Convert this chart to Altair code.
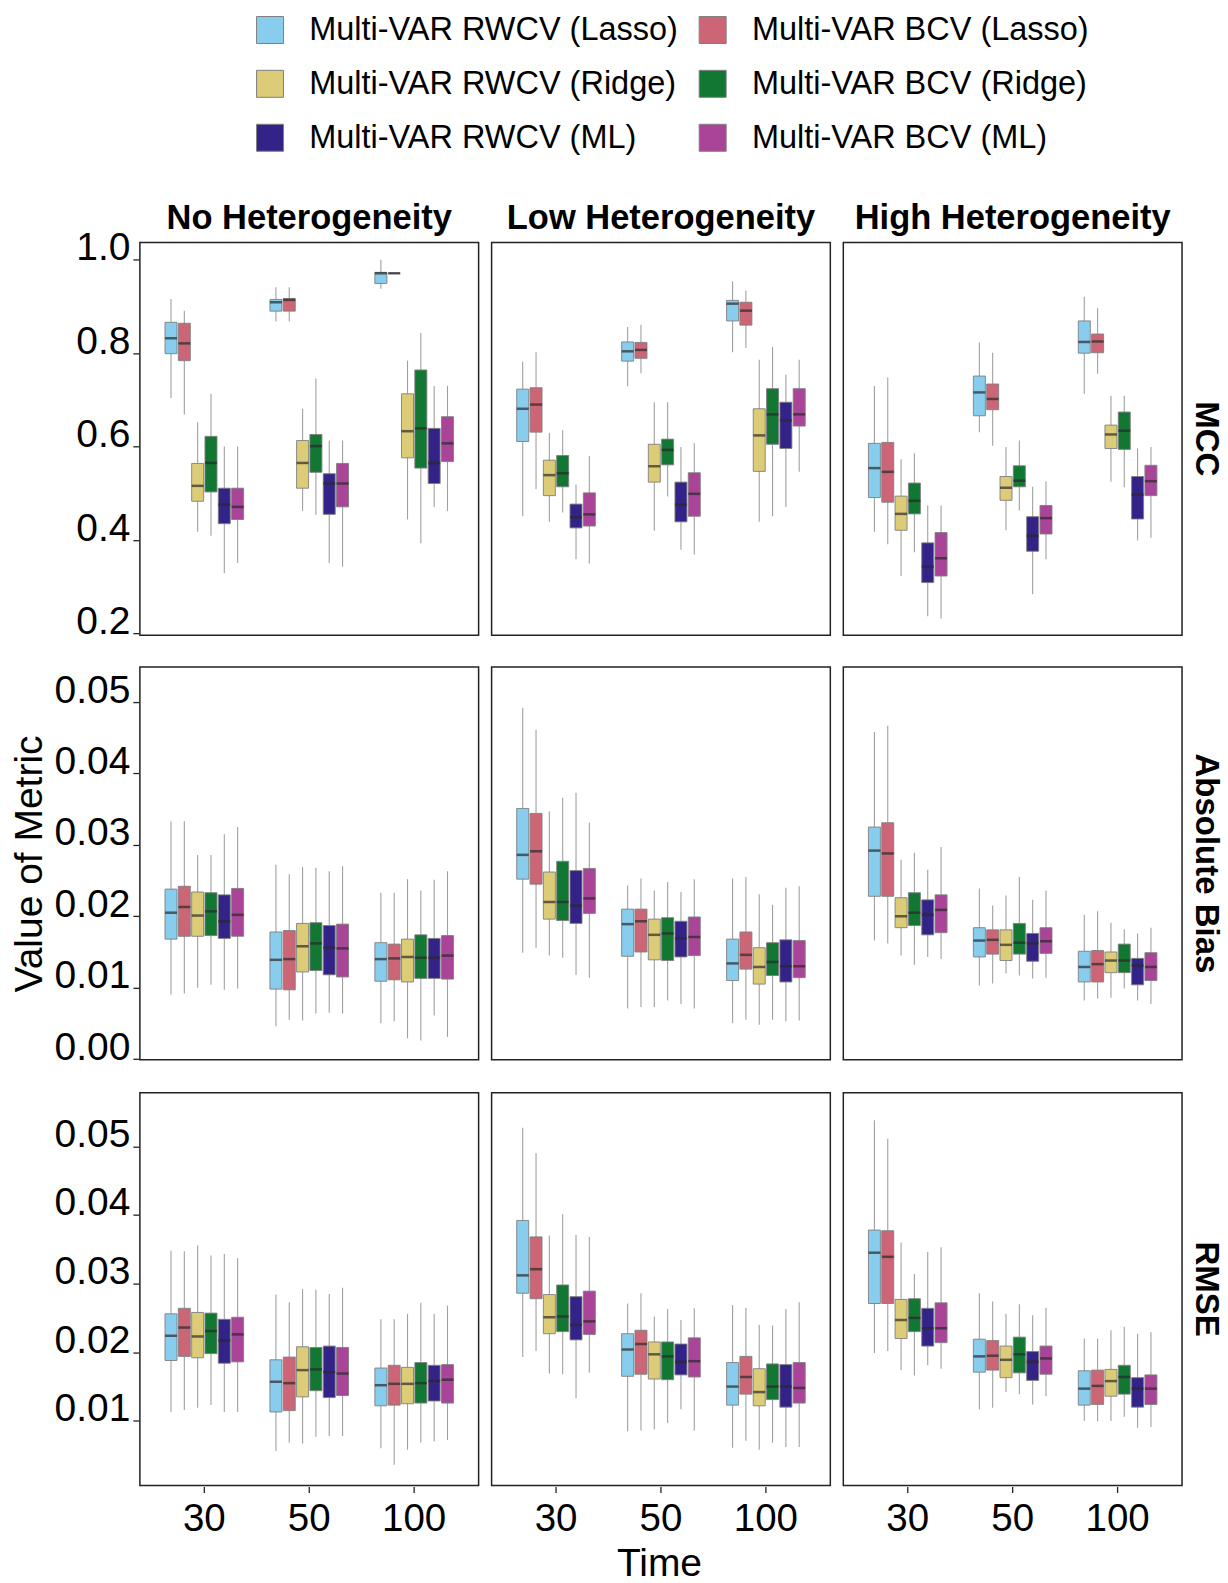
import altair as alt
import pandas as pd

METHODS = ["Multi-VAR RWCV (Lasso)", "Multi-VAR BCV (Lasso)",
           "Multi-VAR RWCV (Ridge)", "Multi-VAR BCV (Ridge)",
           "Multi-VAR RWCV (ML)", "Multi-VAR BCV (ML)"]
COLORS = ["#88CCEE", "#CC6677", "#DDCC77", "#117733", "#332288", "#AA4499"]
# legend is laid out column by column: RWCV methods on the left, BCV on the right
LEGEND_ORDER = [0, 2, 4, 1, 3, 5]
TIMES = ["30", "50", "100"]
HETS = ["No Heterogeneity", "Low Heterogeneity", "High Heterogeneity"]

# rows: time 30, 50, 100 x methods in METHODS order; [lower whisker, Q1, median, Q3, upper whisker]
MCC_NO = [
    [0.704, 0.799, 0.832, 0.866, 0.916], [0.669, 0.784, 0.821, 0.864, 0.891],
    [0.418, 0.483, 0.516, 0.564, 0.652], [0.409, 0.503, 0.565, 0.622, 0.713],
    [0.329, 0.435, 0.476, 0.511, 0.600], [0.351, 0.444, 0.471, 0.511, 0.600],
    [0.868, 0.890, 0.909, 0.915, 0.941], [0.868, 0.890, 0.914, 0.917, 0.941],
    [0.462, 0.511, 0.565, 0.613, 0.681], [0.454, 0.545, 0.601, 0.626, 0.746],
    [0.351, 0.455, 0.521, 0.542, 0.613], [0.343, 0.471, 0.521, 0.564, 0.613],
    [0.938, 0.949, 0.971, 0.973, 1.000], [0.971, 0.971, 0.971, 0.971, 0.971],
    [0.444, 0.576, 0.633, 0.713, 0.784], [0.393, 0.554, 0.639, 0.764, 0.843],
    [0.471, 0.521, 0.565, 0.639, 0.730], [0.462, 0.568, 0.607, 0.664, 0.730],
]
MCC_LOW = [
    [0.451, 0.611, 0.681, 0.723, 0.782], [0.509, 0.631, 0.690, 0.726, 0.802],
    [0.439, 0.495, 0.539, 0.571, 0.629], [0.459, 0.514, 0.543, 0.581, 0.635],
    [0.359, 0.426, 0.449, 0.477, 0.519], [0.350, 0.430, 0.455, 0.501, 0.580],
    [0.729, 0.783, 0.804, 0.824, 0.856], [0.757, 0.789, 0.807, 0.823, 0.861],
    [0.420, 0.524, 0.558, 0.605, 0.695], [0.493, 0.561, 0.593, 0.616, 0.695],
    [0.379, 0.439, 0.476, 0.524, 0.599], [0.369, 0.451, 0.499, 0.544, 0.607],
    [0.802, 0.869, 0.906, 0.913, 0.954], [0.811, 0.860, 0.891, 0.909, 0.934],
    [0.439, 0.547, 0.624, 0.681, 0.786], [0.451, 0.605, 0.669, 0.724, 0.813],
    [0.471, 0.596, 0.656, 0.695, 0.754], [0.546, 0.644, 0.669, 0.724, 0.786],
]
MCC_HIGH = [
    [0.418, 0.491, 0.554, 0.607, 0.730], [0.391, 0.481, 0.546, 0.609, 0.748],
    [0.323, 0.421, 0.456, 0.494, 0.573], [0.374, 0.456, 0.484, 0.522, 0.586],
    [0.237, 0.309, 0.343, 0.394, 0.474], [0.232, 0.323, 0.361, 0.416, 0.474],
    [0.631, 0.666, 0.716, 0.751, 0.823], [0.602, 0.679, 0.702, 0.734, 0.801],
    [0.421, 0.485, 0.512, 0.536, 0.599], [0.463, 0.514, 0.527, 0.559, 0.613],
    [0.284, 0.376, 0.409, 0.450, 0.514], [0.359, 0.413, 0.447, 0.474, 0.526],
    [0.713, 0.800, 0.824, 0.869, 0.921], [0.756, 0.801, 0.825, 0.841, 0.896],
    [0.525, 0.596, 0.626, 0.646, 0.709], [0.513, 0.594, 0.634, 0.674, 0.709],
    [0.399, 0.445, 0.497, 0.536, 0.596], [0.405, 0.495, 0.526, 0.560, 0.599],
]
AB_NO = [
    [0.0090, 0.0168, 0.0205, 0.0238, 0.0333], [0.0092, 0.0172, 0.0213, 0.0242, 0.0333],
    [0.0100, 0.0172, 0.0201, 0.0234, 0.0286], [0.0104, 0.0173, 0.0207, 0.0233, 0.0286],
    [0.0097, 0.0169, 0.0193, 0.0230, 0.0315], [0.0099, 0.0172, 0.0202, 0.0239, 0.0325],
    [0.0046, 0.0098, 0.0139, 0.0178, 0.0272], [0.0055, 0.0097, 0.0140, 0.0180, 0.0259],
    [0.0054, 0.0122, 0.0158, 0.0190, 0.0269], [0.0064, 0.0124, 0.0162, 0.0191, 0.0268],
    [0.0065, 0.0118, 0.0156, 0.0187, 0.0263], [0.0064, 0.0115, 0.0155, 0.0189, 0.0270],
    [0.0050, 0.0109, 0.0140, 0.0163, 0.0233], [0.0053, 0.0111, 0.0141, 0.0161, 0.0233],
    [0.0029, 0.0108, 0.0143, 0.0168, 0.0252], [0.0026, 0.0113, 0.0142, 0.0174, 0.0236],
    [0.0061, 0.0113, 0.0142, 0.0169, 0.0251], [0.0031, 0.0112, 0.0145, 0.0173, 0.0263],
]
AB_LOW = [
    [0.0149, 0.0252, 0.0286, 0.0351, 0.0492], [0.0156, 0.0245, 0.0291, 0.0344, 0.0461],
    [0.0145, 0.0196, 0.0220, 0.0262, 0.0347], [0.0142, 0.0194, 0.0220, 0.0277, 0.0366],
    [0.0118, 0.0190, 0.0215, 0.0264, 0.0373], [0.0114, 0.0204, 0.0225, 0.0267, 0.0331],
    [0.0071, 0.0144, 0.0189, 0.0210, 0.0243], [0.0073, 0.0150, 0.0193, 0.0210, 0.0253],
    [0.0073, 0.0139, 0.0174, 0.0196, 0.0236], [0.0082, 0.0138, 0.0176, 0.0198, 0.0248],
    [0.0077, 0.0143, 0.0169, 0.0193, 0.0234], [0.0071, 0.0145, 0.0171, 0.0199, 0.0252],
    [0.0050, 0.0110, 0.0134, 0.0168, 0.0253], [0.0055, 0.0126, 0.0146, 0.0178, 0.0255],
    [0.0048, 0.0105, 0.0129, 0.0156, 0.0231], [0.0055, 0.0117, 0.0136, 0.0163, 0.0216],
    [0.0053, 0.0108, 0.0130, 0.0167, 0.0240], [0.0054, 0.0114, 0.0130, 0.0166, 0.0242],
]
AB_HIGH = [
    [0.0166, 0.0228, 0.0292, 0.0325, 0.0458], [0.0162, 0.0228, 0.0288, 0.0331, 0.0467],
    [0.0145, 0.0184, 0.0200, 0.0226, 0.0279], [0.0132, 0.0187, 0.0205, 0.0233, 0.0289],
    [0.0143, 0.0174, 0.0202, 0.0223, 0.0265], [0.0140, 0.0177, 0.0209, 0.0230, 0.0297],
    [0.0103, 0.0143, 0.0166, 0.0184, 0.0239], [0.0106, 0.0147, 0.0167, 0.0181, 0.0215],
    [0.0120, 0.0138, 0.0160, 0.0181, 0.0229], [0.0117, 0.0147, 0.0163, 0.0190, 0.0255],
    [0.0113, 0.0137, 0.0162, 0.0176, 0.0223], [0.0114, 0.0148, 0.0165, 0.0184, 0.0236],
    [0.0082, 0.0108, 0.0129, 0.0151, 0.0202], [0.0085, 0.0108, 0.0133, 0.0152, 0.0207],
    [0.0086, 0.0121, 0.0138, 0.0150, 0.0191], [0.0099, 0.0121, 0.0138, 0.0161, 0.0182],
    [0.0082, 0.0104, 0.0131, 0.0141, 0.0176], [0.0077, 0.0110, 0.0129, 0.0149, 0.0184],
]
RMSE_NO = [
    [0.0113, 0.0188, 0.0224, 0.0256, 0.0348], [0.0116, 0.0194, 0.0236, 0.0264, 0.0347],
    [0.0119, 0.0192, 0.0223, 0.0258, 0.0356], [0.0123, 0.0198, 0.0231, 0.0257, 0.0341],
    [0.0113, 0.0184, 0.0217, 0.0248, 0.0343], [0.0113, 0.0186, 0.0226, 0.0251, 0.0337],
    [0.0056, 0.0113, 0.0157, 0.0189, 0.0284], [0.0068, 0.0115, 0.0155, 0.0193, 0.0273],
    [0.0067, 0.0135, 0.0174, 0.0208, 0.0292], [0.0077, 0.0144, 0.0175, 0.0207, 0.0291],
    [0.0078, 0.0134, 0.0171, 0.0209, 0.0285], [0.0078, 0.0137, 0.0169, 0.0207, 0.0294],
    [0.0060, 0.0122, 0.0152, 0.0177, 0.0248], [0.0036, 0.0123, 0.0154, 0.0181, 0.0248],
    [0.0058, 0.0125, 0.0154, 0.0178, 0.0256], [0.0068, 0.0126, 0.0155, 0.0185, 0.0272],
    [0.0070, 0.0129, 0.0158, 0.0181, 0.0256], [0.0072, 0.0126, 0.0160, 0.0182, 0.0268],
]
RMSE_LOW = [
    [0.0193, 0.0286, 0.0312, 0.0392, 0.0527], [0.0202, 0.0278, 0.0321, 0.0368, 0.0490],
    [0.0169, 0.0227, 0.0251, 0.0284, 0.0370], [0.0168, 0.0230, 0.0252, 0.0298, 0.0401],
    [0.0133, 0.0218, 0.0240, 0.0281, 0.0371], [0.0170, 0.0226, 0.0245, 0.0289, 0.0368],
    [0.0085, 0.0165, 0.0204, 0.0227, 0.0271], [0.0086, 0.0168, 0.0212, 0.0232, 0.0286],
    [0.0088, 0.0161, 0.0197, 0.0215, 0.0252], [0.0097, 0.0160, 0.0194, 0.0215, 0.0263],
    [0.0117, 0.0167, 0.0186, 0.0212, 0.0247], [0.0086, 0.0164, 0.0187, 0.0221, 0.0264],
    [0.0061, 0.0123, 0.0150, 0.0185, 0.0269], [0.0071, 0.0139, 0.0164, 0.0194, 0.0265],
    [0.0058, 0.0122, 0.0142, 0.0176, 0.0240], [0.0068, 0.0131, 0.0150, 0.0183, 0.0239],
    [0.0062, 0.0120, 0.0150, 0.0182, 0.0263], [0.0062, 0.0126, 0.0148, 0.0185, 0.0273],
]
RMSE_HIGH = [
    [0.0199, 0.0271, 0.0345, 0.0378, 0.0538], [0.0202, 0.0271, 0.0339, 0.0377, 0.0511],
    [0.0174, 0.0220, 0.0247, 0.0277, 0.0360], [0.0166, 0.0230, 0.0250, 0.0278, 0.0314],
    [0.0181, 0.0209, 0.0235, 0.0264, 0.0346], [0.0176, 0.0214, 0.0235, 0.0272, 0.0353],
    [0.0117, 0.0171, 0.0194, 0.0219, 0.0286], [0.0119, 0.0174, 0.0195, 0.0217, 0.0274],
    [0.0142, 0.0163, 0.0189, 0.0209, 0.0256], [0.0139, 0.0170, 0.0197, 0.0222, 0.0270],
    [0.0124, 0.0159, 0.0186, 0.0201, 0.0254], [0.0136, 0.0168, 0.0191, 0.0209, 0.0265],
    [0.0100, 0.0123, 0.0147, 0.0173, 0.0220], [0.0099, 0.0124, 0.0151, 0.0174, 0.0220],
    [0.0100, 0.0136, 0.0158, 0.0175, 0.0232], [0.0106, 0.0139, 0.0164, 0.0181, 0.0237],
    [0.0090, 0.0120, 0.0147, 0.0163, 0.0227], [0.0091, 0.0124, 0.0147, 0.0167, 0.0229],
]

MCC_DOMAIN = [0.1965, 1.037]
AB_DOMAIN = [-0.0001, 0.0549]
RMSE_DOMAIN = [0.0006, 0.0578]
MCC_TICKS = [0.2, 0.4, 0.6, 0.8, 1.0]
AB_TICKS = [0.00, 0.01, 0.02, 0.03, 0.04, 0.05]
RMSE_TICKS = [0.01, 0.02, 0.03, 0.04, 0.05]

FONT = "Liberation Sans"
LEG_DOMAIN = [METHODS[i] for i in LEGEND_ORDER]
LEG_RANGE = [COLORS[i] for i in LEGEND_ORDER]


def records(metric, het, rows):
    out = []
    for i, r in enumerate(rows):
        out.append(dict(metric=metric, het=het, time=TIMES[i // 6], method=METHODS[i % 6],
                        lw=r[0], q1=r[1], med=r[2], q3=r[3], uw=r[4]))
    return out


def row_chart(metric, tables, domain, ticks, fmt, top=False, middle=False, bottom=False):
    data = []
    for het, rows in zip(HETS, tables):
        data += records(metric, het, rows)
    base = alt.Chart(pd.DataFrame(data))
    xaxis = alt.Axis(title=None, labelAngle=0, labelFontSize=38.5, labelFont=FONT,
                     tickSize=6, tickColor="#222", tickWidth=1.3, domain=False,
                     labelPadding=8, labelColor="black") if bottom else None
    x = alt.X("time:N", sort=TIMES, axis=xaxis,
              scale=alt.Scale(paddingInner=0.238, paddingOuter=0.233))
    xo = alt.XOffset("method:N", sort=METHODS)
    yscale = alt.Scale(domain=domain, nice=False, zero=False)
    yaxis = alt.Axis(values=ticks, format=fmt, title="Value of Metric",
                     titleOpacity=1 if middle else 0,
                     labelFontSize=39, titleFontSize=39, labelFont=FONT, titleFont=FONT,
                     titleFontWeight="normal", tickSize=6, tickColor="#222", tickWidth=1.3,
                     domain=False, grid=False, labelPadding=3, titlePadding=4,
                     minExtent=85, maxExtent=85, labelBaseline="alphabetic",
                     labelColor="black", titleColor="black")
    color = alt.Color("method:N",
                      scale=alt.Scale(domain=LEG_DOMAIN, range=LEG_RANGE),
                      legend=alt.Legend(title=None, orient="none", columns=2,
                                        legendX=114, legendY=-229,
                                        symbolType="square", symbolSize=729,
                                        symbolStrokeColor="#808080", symbolStrokeWidth=1,
                                        labelFontSize=32.5, labelFont=FONT, labelLimit=600,
                                        labelColor="black", labelOffset=23,
                                        rowPadding=21, columnPadding=18))
    whisk = base.mark_rule(color="#a0a0a0", strokeWidth=1.1).encode(
        x=x, xOffset=xo, y=alt.Y("lw:Q", scale=yscale, axis=yaxis), y2="uw:Q")
    box = base.mark_bar(size=12, stroke="#7f7f7f", strokeWidth=0.9).encode(
        x=x, xOffset=xo, y=alt.Y("q1:Q", scale=yscale, axis=yaxis), y2="q3:Q", color=color)
    med = base.mark_tick(size=12, thickness=2.5, color="#2a2a2a").encode(
        x=x, xOffset=xo, y=alt.Y("med:Q", scale=yscale, axis=yaxis))
    layer = alt.layer(whisk, box, med).properties(
        width=339, height=393,
        view=alt.ViewBackground(stroke="#222222", strokeWidth=1.5, fill="white"))
    if top:
        col_header = alt.Header(title=None, labelFontSize=34.5, labelFontWeight="bold",
                                labelFont=FONT, labelPadding=5, labelColor="black")
    else:
        col_header = alt.Header(title=None, labels=False)
    row_header = alt.Header(title=None, labelOrient="right", labelAngle=90,
                            labelFontSize=33, labelFontWeight="bold", labelFont=FONT,
                            labelPadding=6, labelColor="black")
    fac = layer.facet(
        row=alt.Row("metric:N", header=row_header),
        column=alt.Column("het:N", sort=HETS, header=col_header),
        spacing={"column": 11, "row": 0},
    )
    if bottom:
        fac = fac.properties(title=alt.TitleParams("Time", orient="bottom", anchor="middle",
                                                   frame="group", dx=520, fontSize=39,
                                                   fontWeight="normal", font=FONT,
                                                   color="black", offset=7))
    return fac


r1 = row_chart("MCC", [MCC_NO, MCC_LOW, MCC_HIGH], MCC_DOMAIN, MCC_TICKS, ".1f", top=True)
r2 = row_chart("Absolute Bias", [AB_NO, AB_LOW, AB_HIGH], AB_DOMAIN, AB_TICKS, ".2f", middle=True)
r3 = row_chart("RMSE", [RMSE_NO, RMSE_LOW, RMSE_HIGH], RMSE_DOMAIN, RMSE_TICKS, ".2f", bottom=True)

chart = alt.vconcat(r1, r2, r3, spacing=24).configure_view(
    stroke="#222222", strokeWidth=1.5
).configure(background="white", padding={"left": 11, "top": 13, "right": 6, "bottom": 2})

chart.save("out.html", embed_options={"renderer": "svg", "actions": False})
